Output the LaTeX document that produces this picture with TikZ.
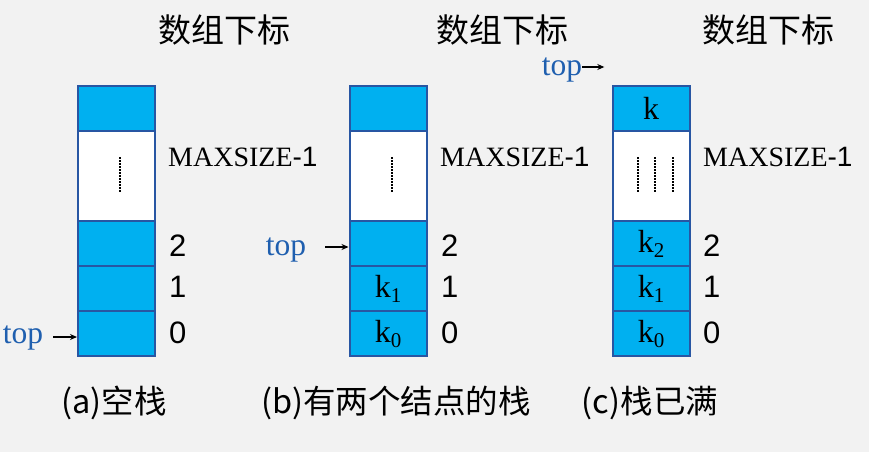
\documentclass[tikz,border=0pt]{standalone}
\usepackage{fontspec}
\setmainfont{Liberation Serif}
\newfontfamily\cjk{Noto Sans CJK SC}
\newfontfamily\lsans{Liberation Sans}
\usetikzlibrary{arrows.meta}
\definecolor{bg}{HTML}{F2F2F2}
\definecolor{cellblue}{HTML}{00B0F0}
\definecolor{edge}{HTML}{2856A3}
\definecolor{topblue}{HTML}{1F5FAF}
\newcommand{\ksub}[1]{k\raisebox{-5pt}{\fontsize{21}{21}\selectfont #1}}
\begin{document}
\begin{tikzpicture}[x=1pt,y=-1pt,
 cell/.style={draw=edge, line width=2pt, fill=cellblue, minimum width=77pt, minimum height=45pt, inner sep=0pt, font=\fontsize{32}{32}\selectfont},
 gap/.style={cell, fill=white, minimum height=90pt},
 idx/.style={anchor=west, inner sep=0pt, font=\lsans\fontsize{31}{31}\selectfont},
 maxl/.style={anchor=west, inner sep=0pt, font=\fontsize{28}{28}\selectfont},
 head/.style={font=\cjk\fontsize{33}{33}\selectfont, inner sep=0pt},
 captxt/.style={font=\cjk\fontsize{32.5}{32.5}\selectfont, inner sep=0pt},
 toplbl/.style={text=topblue, font=\fontsize{31.5}{31.5}\selectfont, inner sep=0pt},
 ptr/.style={-{Stealth[length=7pt,width=6pt]}, line width=1.5pt},
 dots/.style={line width=2pt, dash pattern=on 1.5pt off 1.5pt}]
\useasboundingbox (0,0) rectangle (869,452);
\fill[bg] (0,0) rectangle (869,452);

% headers
\node[head] (ha) at (224,30) {数组下标};
\node[head] (hb) at (502,30) {数组下标};
\node[head] (hc) at (768,30) {数组下标};

% stack a
\node[cell] (at) at (116.5,108.5) {};
\node[gap]  (ag) at (116.5,176) {};
\node[cell] (a2) at (116.5,243.5) {};
\node[cell] (a1) at (116.5,288.5) {};
\node[cell] (a0) at (116.5,333.5) {};
\draw[dots] (120,157) -- (120,193);
\node[maxl] (am) at (168,157) {MAXSIZE{\lsans -1}};
\node[idx] (ai2) at (169,246) {2};
\node[idx] (ai1) at (169,287) {1};
\node[idx] (ai0) at (169,333) {0};
\node[toplbl] (ta) at (23,338) {top};
\coordinate (pa) at (53,337);
\draw[ptr] (pa) -- (a0.west |- pa);

% stack b
\node[cell] (bt) at (388,108.5) {};
\node[gap]  (bg) at (388,176) {};
\node[cell] (b2) at (388,243.5) {};
\node[cell] (b1) at (388,288.5) {\ksub{1}};
\node[cell] (b0) at (388,333.5) {\ksub{0}};
\draw[dots] (392,157) -- (392,193);
\node[maxl] (bm) at (440,157) {MAXSIZE{\lsans -1}};
\node[idx] (bi2) at (441,246) {2};
\node[idx] (bi1) at (441,287) {1};
\node[idx] (bi0) at (441,333) {0};
\node[toplbl] (tb) at (286,250) {top};
\coordinate (pb) at (325,247);
\draw[ptr] (pb) -- (b2.west |- pb);

% stack c
\node[cell] (ct) at (651,108.5) {k};
\node[gap]  (cg) at (651,176) {};
\node[cell] (c2) at (651,243.5) {\ksub{2}};
\node[cell] (c1) at (651,288.5) {\ksub{1}};
\node[cell] (c0) at (651,333.5) {\ksub{0}};
\draw[dots] (638,157) -- (638,193);
\draw[dots] (655,157) -- (655,193);
\draw[dots] (673,157) -- (673,193);
\node[maxl] (cm) at (703,157) {MAXSIZE{\lsans -1}};
\node[idx] (ci2) at (703,246) {2};
\node[idx] (ci1) at (703,287) {1};
\node[idx] (ci0) at (703,333) {0};
\node[toplbl] (tc) at (562,70) {top};
\draw[ptr] (tc.east |- 0,67) -- ++(22,0);

% captions
\node[captxt] (capa) at (114,403) {(a)空栈};
\node[captxt] (capb) at (396,403) {(b)有两个结点的栈};
\node[captxt] (capc) at (650,403) {(c)栈已满};
\end{tikzpicture}
\end{document}
